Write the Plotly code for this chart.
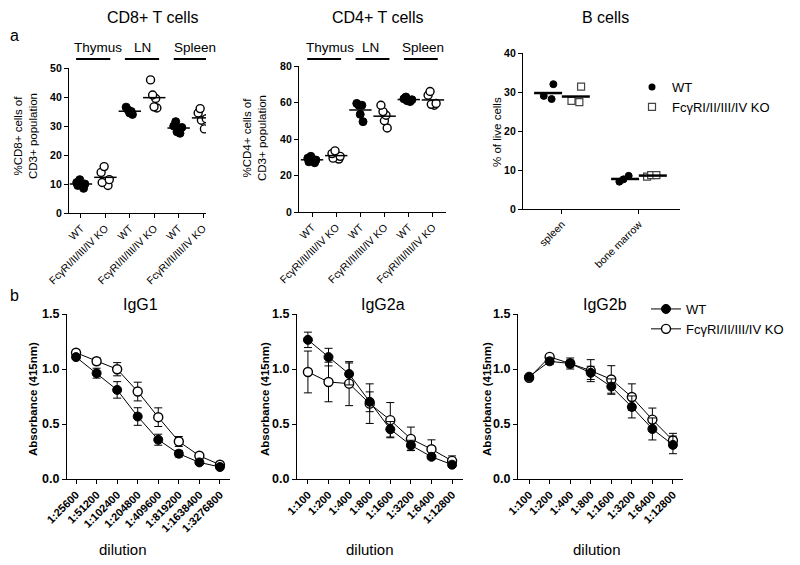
import numpy as np
import plotly.graph_objects as go

FONT = "Liberation Sans, Arial, sans-serif"
# the page body keeps its default 8px margin, so the figure is 8px smaller on each side
PAGE_MARGIN = 8
W, H = 800 - PAGE_MARGIN, 565 - PAGE_MARGIN

# ── Data ──────────────────────────────────────────────────────────────────────

T_TISSUES = ["Thymus", "LN", "Spleen"]
T_GENOTYPES = ["WT", "KO"]
T_TICK_LABELS = ["WT", "FcγRI/II/III/IV KO"]

CD8_WT = [[8.5, 9.5, 10.0, 10.5, 11.5], [34.0, 34.5, 35.0, 35.5, 36.5], [27.5, 28.0, 29.5, 30.0, 31.5]]
CD8_KO = [[9.5, 10.5, 11.5, 14.0, 16.0], [36.2, 36.6, 39.5, 40.7, 45.9], [29.0, 32.0, 32.5, 34.5, 36.0]]

CD4_WT = [[27.0, 27.5, 28.5, 29.5, 30.5], [49.5, 53.5, 58.5, 58.5, 59.5], [60.5, 61.0, 61.5, 62.0, 63.0]]
CD4_KO = [[29.0, 29.5, 30.5, 32.0, 33.5], [46.0, 50.0, 53.0, 55.0, 58.5], [58.5, 59.0, 59.5, 64.0, 66.0]]

B_TISSUES = ["spleen", "bone marrow"]
B_WT = [[32.0, 28.2, 29.0], [8.5, 7.0, 7.6]]
B_KO = [[31.4, 27.4, 27.7], [8.7, 8.3, 8.7]]

IGG1_DIL = ["1:25600", "1:51200", "1:102400", "1:204800", "1:409600", "1:819200", "1:1638400", "1:3276800"]
IGG1_WT = [1.108, 0.962, 0.81, 0.568, 0.357, 0.23, 0.151, 0.109]
IGG1_WT_ERR = [0.02, 0.045, 0.075, 0.08, 0.05, 0.03, 0.02, 0.015]
IGG1_KO = [1.148, 1.07, 0.998, 0.795, 0.562, 0.341, 0.211, 0.13]
IGG1_KO_ERR = [0.01, 0.03, 0.06, 0.085, 0.085, 0.045, 0.015, 0.01]

IGG2_DIL = ["1:100", "1:200", "1:400", "1:800", "1:1600", "1:3200", "1:6400", "1:12800"]
IGG2A_WT = [1.265, 1.108, 0.955, 0.702, 0.452, 0.307, 0.202, 0.13]
IGG2A_WT_ERR = [0.07, 0.08, 0.1, 0.09, 0.07, 0.045, 0.02, 0.02]
IGG2A_KO = [0.973, 0.882, 0.867, 0.685, 0.535, 0.365, 0.271, 0.165]
IGG2A_KO_ERR = [0.19, 0.18, 0.2, 0.18, 0.16, 0.107, 0.085, 0.045]

IGG2B_WT = [0.93, 1.07, 1.05, 0.965, 0.84, 0.655, 0.455, 0.31]
IGG2B_WT_ERR = [0.02, 0.03, 0.05, 0.06, 0.07, 0.1, 0.1, 0.08]
IGG2B_KO = [0.92, 1.11, 1.05, 0.985, 0.905, 0.745, 0.54, 0.35]
IGG2B_KO_ERR = [0.01, 0.01, 0.03, 0.1, 0.125, 0.12, 0.105, 0.065]


# ── Helpers ───────────────────────────────────────────────────────────────────

def px(x):
    return (x - PAGE_MARGIN) / W


def py(y):
    return 1 - (y - PAGE_MARGIN) / H


AXIS = dict(showline=True, linecolor="black", linewidth=1.3, ticks="outside", ticklen=4,
            tickwidth=1.3, tickcolor="black", showgrid=False, zeroline=False, automargin=False)
WT_MARK = dict(color="black", size=8, line=dict(color="black", width=1))
KO_MARK = dict(color="white", size=8, line=dict(color="black", width=1.4))
KO_SQUARE = dict(color="white", size=7, symbol="square", line=dict(color="#444", width=1.2))

fig = go.Figure()


def dot_panel(n, wt, ko):
    xa, ya = f"x{n}", f"y{n}"
    keys = {g: [f"{t} {g}" for t in T_TISSUES] for g in T_GENOTYPES}
    for g, groups, mark in (("WT", wt, WT_MARK), ("KO", ko, KO_MARK)):
        xs = [k for k, vals in zip(keys[g], groups) for _ in vals]
        ys = [v for vals in groups for v in vals]
        fig.add_trace(go.Box(
            x=xs, y=ys, xaxis=xa, yaxis=ya, boxpoints="all", jitter=0.75, pointpos=0,
            width=0.55, fillcolor="rgba(0,0,0,0)", line=dict(color="rgba(0,0,0,0)", width=0),
            whiskerwidth=0, marker=mark, showlegend=False, hoveron="points"))
        fig.add_trace(go.Scatter(
            x=keys[g], y=[np.mean(v) for v in groups], xaxis=xa, yaxis=ya, mode="markers",
            marker=dict(symbol="line-ew", size=16, line=dict(color="black", width=1.5)),
            showlegend=False))
    order = [f"{t} {g}" for t in T_TISSUES for g in T_GENOTYPES]
    labels = [T_TICK_LABELS[i % 2] for i in range(len(order))]
    return order, labels


def curve_panel(n, dil, wt, wt_err, ko, ko_err):
    xa, ya = f"x{n}", f"y{n}"
    for vals, err, mark in ((ko, ko_err, dict(KO_MARK, size=9)), (wt, wt_err, dict(WT_MARK, size=9))):
        fig.add_trace(go.Scatter(
            x=dil, y=vals, xaxis=xa, yaxis=ya, mode="lines+markers",
            line=dict(color="black", width=1), marker=mark,
            error_y=dict(type="data", array=err, color="black", thickness=1, width=4),
            showlegend=False))


# ── Top row: dot plots ────────────────────────────────────────────────────────

cd8_order, cd8_labels = dot_panel(1, CD8_WT, CD8_KO)
cd4_order, cd4_labels = dot_panel(2, CD4_WT, CD4_KO)

B_OFFSET = 0.18
b_pos = np.arange(len(B_TISSUES))
for groups, mark, shift in ((B_WT, dict(WT_MARK, size=7), -B_OFFSET), (B_KO, KO_SQUARE, B_OFFSET)):
    xs = [p + shift for p, vals in zip(b_pos, groups) for _ in vals]
    ys = [v for vals in groups for v in vals]
    fig.add_trace(go.Box(
        x=xs, y=ys, xaxis="x3", yaxis="y3", boxpoints="all", jitter=0.8, pointpos=0,
        width=0.22, fillcolor="rgba(0,0,0,0)", line=dict(color="rgba(0,0,0,0)", width=0),
        whiskerwidth=0, marker=mark, showlegend=False, hoveron="points"))
    fig.add_trace(go.Scatter(
        x=b_pos + shift, y=[np.mean(v) for v in groups], xaxis="x3", yaxis="y3", mode="markers",
        marker=dict(symbol="line-ew", size=20, line=dict(color="black", width=2.5)),
        showlegend=False))

# ── Bottom row: ELISA curves ──────────────────────────────────────────────────

curve_panel(4, IGG1_DIL, IGG1_WT, IGG1_WT_ERR, IGG1_KO, IGG1_KO_ERR)
curve_panel(5, IGG2_DIL, IGG2A_WT, IGG2A_WT_ERR, IGG2A_KO, IGG2A_KO_ERR)
curve_panel(6, IGG2_DIL, IGG2B_WT, IGG2B_WT_ERR, IGG2B_KO, IGG2B_KO_ERR)

# legend-only entries (no data drawn)
for name, mark, leg, mode in (
        ("WT", dict(color="black", size=7), "legend", "markers"),
        ("FcγRI/II/III/IV KO", KO_SQUARE, "legend", "markers"),
        ("WT", dict(WT_MARK, size=9), "legend2", "lines+markers"),
        ("FcγRI/II/III/IV KO", dict(KO_MARK, size=9), "legend2", "lines+markers")):
    fig.add_trace(go.Scatter(x=[None], y=[None], xaxis="x3", yaxis="y3", mode=mode, name=name,
                             marker=mark, line=dict(color="black", width=1), legend=leg))

# ── Axes ──────────────────────────────────────────────────────────────────────

YFONT = dict(family=FONT, size=10.5, color="black", weight="bold")
XT_FONT = dict(family=FONT, size=10.5, color="black")
XB_FONT = dict(family=FONT, size=11, color="black", weight="bold")

layout_axes = dict(
    xaxis=dict(AXIS, domain=[px(69), px(206)], range=[-0.49, 5.12], type="category",
               categoryorder="array", categoryarray=cd8_order, tickvals=cd8_order,
               ticktext=cd8_labels, tickangle=-45, tickfont=XT_FONT, anchor="y"),
    yaxis=dict(AXIS, domain=[py(213), py(68)], range=[0, 50], tickvals=[0, 10, 20, 30, 40, 50],
               tickfont=YFONT, anchor="x"),
    xaxis2=dict(AXIS, domain=[px(299), px(446)], range=[-0.54, 5.54], type="category",
                categoryorder="array", categoryarray=cd4_order, tickvals=cd4_order,
                ticktext=cd4_labels, tickangle=-45, tickfont=XT_FONT, anchor="y2"),
    yaxis2=dict(AXIS, domain=[py(212), py(66)], range=[0, 80], tickvals=[0, 20, 40, 60, 80],
                tickfont=YFONT, anchor="x2"),
    xaxis3=dict(AXIS, domain=[px(523), px(680)], range=[-0.506, 1.533], tickvals=b_pos,
                ticktext=B_TISSUES, tickangle=-45, tickfont=XT_FONT, anchor="y3"),
    yaxis3=dict(AXIS, domain=[py(209), py(53)], range=[0, 40], tickvals=[0, 10, 20, 30, 40],
                tickfont=YFONT, anchor="x3"),
)
bottom_y = dict(AXIS, domain=[py(479), py(314)], range=[0, 1.5], tickvals=[0, 0.5, 1.0, 1.5],
                tickformat=".1f", tickfont=dict(YFONT, size=12.5))
for n, (x0, x1, lo, hi) in zip((4, 5, 6), ((67, 230, -0.44, 7.49), (297, 463, -0.53, 7.53),
                                           (518, 683, -0.54, 7.49))):
    layout_axes[f"xaxis{n}"] = dict(AXIS, domain=[px(x0), px(x1)], range=[lo, hi], type="category",
                                    tickangle=-45, tickfont=XB_FONT, anchor=f"y{n}")
    layout_axes[f"yaxis{n}"] = dict(bottom_y, anchor=f"x{n}")

# ── Text ──────────────────────────────────────────────────────────────────────

ann = []


def text(x, y, s, size, angle=0, bold=False):
    ann.append(dict(x=px(x), y=py(y), xref="paper", yref="paper", text=s, showarrow=False,
                    textangle=angle, xanchor="center", yanchor="middle",
                    font=dict(family=FONT, size=size, color="black",
                              weight="bold" if bold else "normal")))


text(14, 35, "a", 16)
text(14, 295, "b", 16)
text(152, 18, "CD8+ T cells", 16)
text(377, 18, "CD4+ T cells", 16)
text(605, 18, "B cells", 16)
text(140, 304, "IgG1", 16)
text(383, 304, "IgG2a", 16)
text(605, 304, "IgG2b", 16)
text(25, 136, "%CD8+ cells of<br>CD3+ population", 11.5, angle=-90)
text(254, 138, "%CD4+ cells of<br>CD3+ population", 11.5, angle=-90)
text(497, 132, "% of live cells", 11.5, angle=-90)
for x in (33, 265, 487):
    text(x, 399, "Absorbance (415nm)", 11.5, angle=-90, bold=True)
for x in (123, 370, 597):
    text(x, 549, "dilution", 15)

shapes = []
for n, centers in ((1, (0.7, 2.5, 4.65)), (2, (0.75, 2.4, 4.6))):
    for i, (tissue, c) in enumerate(zip(T_TISSUES, centers)):
        ann.append(dict(x=c, y=py(47), xref=f"x{n}", yref="paper", text=tissue, showarrow=False,
                        xanchor="center", yanchor="middle",
                        font=dict(family=FONT, size=13.5, color="black")))
        shapes.append(dict(type="line", xref=f"x{n}", yref="paper", x0=2 * i - 0.2,
                           x1=2 * i + 1.2, y0=py(59), y1=py(59),
                           line=dict(color="black", width=2)))

fig.update_layout(
    width=W, height=H, autosize=False, margin=dict(l=0, r=0, t=0, b=0, autoexpand=False),
    paper_bgcolor="white", plot_bgcolor="white", font=dict(family=FONT, color="black"),
    annotations=ann, shapes=shapes, showlegend=True,
    legend=dict(x=px(632), y=py(72), xanchor="left", yanchor="top", bgcolor="rgba(0,0,0,0)",
                font=dict(family=FONT, size=13), tracegroupgap=0, itemwidth=30),
    legend2=dict(x=px(646), y=py(294), xanchor="left", yanchor="top", bgcolor="rgba(0,0,0,0)",
                 font=dict(family=FONT, size=13), tracegroupgap=0, itemwidth=30),
    **layout_axes,
)

fig.write_html("out.html")
